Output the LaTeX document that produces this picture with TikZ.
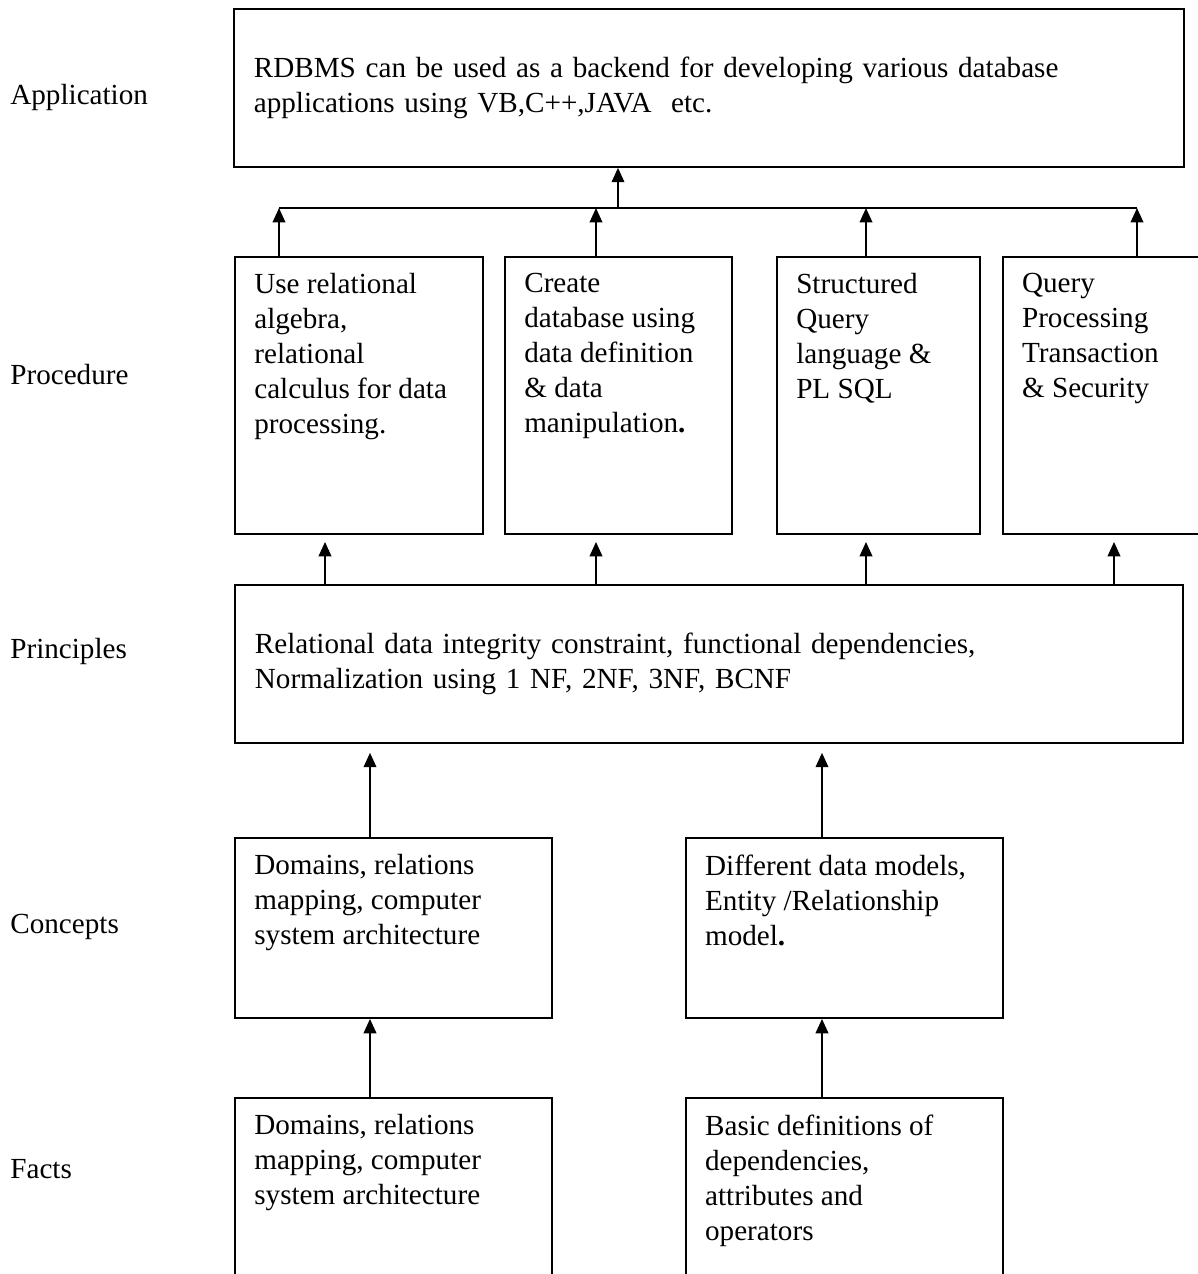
\documentclass[tikz,border=0pt]{standalone}
\usepackage{fontspec}
\setmainfont{Liberation Serif}
\usetikzlibrary{arrows.meta, positioning}

\begin{document}
\begin{tikzpicture}[
        x=0.5575pt, y=-0.5575pt,
        box/.style={draw, line width=1pt, rectangle, inner sep=0pt, minimum height=154.4pt},
        wide/.style={draw, line width=1pt, rectangle, align=left, inner xsep=11.15pt, inner ysep=0pt, minimum height=88.1pt, font=\fontsize{16.25}{19.5}\selectfont},
        txt/.style={anchor=north west, align=left, inner xsep=11.15pt, inner ysep=9.6pt, font=\fontsize{16.25}{19.5}\selectfont},
        lbl/.style={anchor=west, inner sep=0pt, font=\fontsize{16.25}{19.5}\selectfont},
        arrow/.style={-{Triangle[width=7pt,length=8pt]}, line width=1.1pt}
    ]
        \path[use as bounding box, clip] (0,0) rectangle (1198,1274);

        % Levels
        \node[lbl] (lapp) at (10,97) {Application};
        \node[lbl] (lproc) at (10,375) {Procedure};
        \node[lbl] (lprinc) at (10,651) {Principles};
        \node[lbl] (lconc) at (10,927) {Concepts};
        \node[lbl] (lfacts) at (10,1169) {Facts};

        % Application
        \node[wide, text width=507.3pt, anchor=north west] (app) at (233,8) {RDBMS can be used as a backend for developing various database\\applications using VB,C++,JAVA\ \ etc.};

        % Procedure
        \node[box, minimum width=138.3pt, anchor=north west] (proc1) at (234,256) {};
        \node[box, minimum width=126.6pt, right=11.2pt of proc1] (proc2) {};
        \node[box, minimum width=113.2pt, right=24pt of proc2] (proc3) {};
        \node[box, minimum width=133.8pt, right=11.7pt of proc3] (proc4) {};
        \node[txt] (proc1t) at (proc1.north west) {Use relational\\algebra,\\relational\\calculus for data\\processing.};
        \node[txt] (proc2t) at (proc2.north west) {Create\\database using\\data definition\\\& data\\manipulation\textbf{.}};
        \node[txt] (proc3t) at (proc3.north west) {Structured\\Query\\language \&\\PL SQL};
        \node[txt] (proc4t) at (proc4.north west) {Query\\Processing\\Transaction\\\& Security};

        % Principles
        \node[wide, text width=506.2pt, anchor=north west] (princ) at (234,584) {Relational data integrity constraint, functional dependencies,\\Normalization using 1 NF, 2NF, 3NF, BCNF};

        % Concepts
        \node[box, minimum width=176.7pt, minimum height=100.4pt, anchor=north west] (conc1) at (234,837) {};
        \node[box, minimum width=176.7pt, minimum height=100.4pt, right=73.6pt of conc1] (conc2) {};
        \node[txt] (conc1t) at (conc1.north west) {Domains, relations\\mapping, computer\\system architecture};
        \node[txt] (conc2t) at (conc2.north west) {Different data models,\\Entity /Relationship\\model\textbf{.}};

        % Facts
        \node[box, minimum width=176.7pt, minimum height=122.7pt, anchor=north west] (facts1) at (234,1097) {};
        \node[box, minimum width=176.7pt, minimum height=122.7pt, right=73.6pt of facts1] (facts2) {};
        \node[txt] (facts1t) at (facts1.north west) {Domains, relations\\mapping, computer\\system architecture};
        \node[txt] (facts2t) at (facts2.north west) {Basic definitions of\\dependencies,\\attributes and\\operators};

        % Bus to application
        \coordinate (busL) at (279,208);
        \coordinate (bus2) at (596,208);
        \coordinate (busM) at (618,208);
        \coordinate (bus3) at (866,208);
        \coordinate (busR) at (1137,208);
        \draw[line width=1.1pt] (busL) -- (busR);
        \draw[arrow] (busM) -- (busM |- app.south);
        \draw[arrow] (proc1.north -| busL) -- (busL);
        \draw[arrow] (proc2.north -| bus2) -- (bus2);
        \draw[arrow] (proc3.north -| bus3) -- (bus3);
        \draw[arrow] (proc4.north -| busR) -- (busR);

        % Principles to procedure
        \draw[arrow, shorten >=4pt] (princ.north -| 325,0) -- (proc1.south -| 325,0);
        \draw[arrow, shorten >=4pt] (princ.north -| bus2) -- (proc2.south -| bus2);
        \draw[arrow, shorten >=4pt] (princ.north -| bus3) -- (proc3.south -| bus3);
        \draw[arrow, shorten >=4pt] (princ.north -| 1114,0) -- (proc4.south -| 1114,0);

        % Concepts to principles
        \draw[arrow, shorten >=5pt] (conc1.north -| 370,0) -- (princ.south -| 370,0);
        \draw[arrow, shorten >=5pt] (conc2.north -| 822,0) -- (princ.south -| 822,0);

        % Facts to concepts
        \draw[arrow] (facts1.north -| 370,0) -- (conc1.south -| 370,0);
        \draw[arrow] (facts2.north -| 822,0) -- (conc2.south -| 822,0);
    \end{tikzpicture}
\end{document}
